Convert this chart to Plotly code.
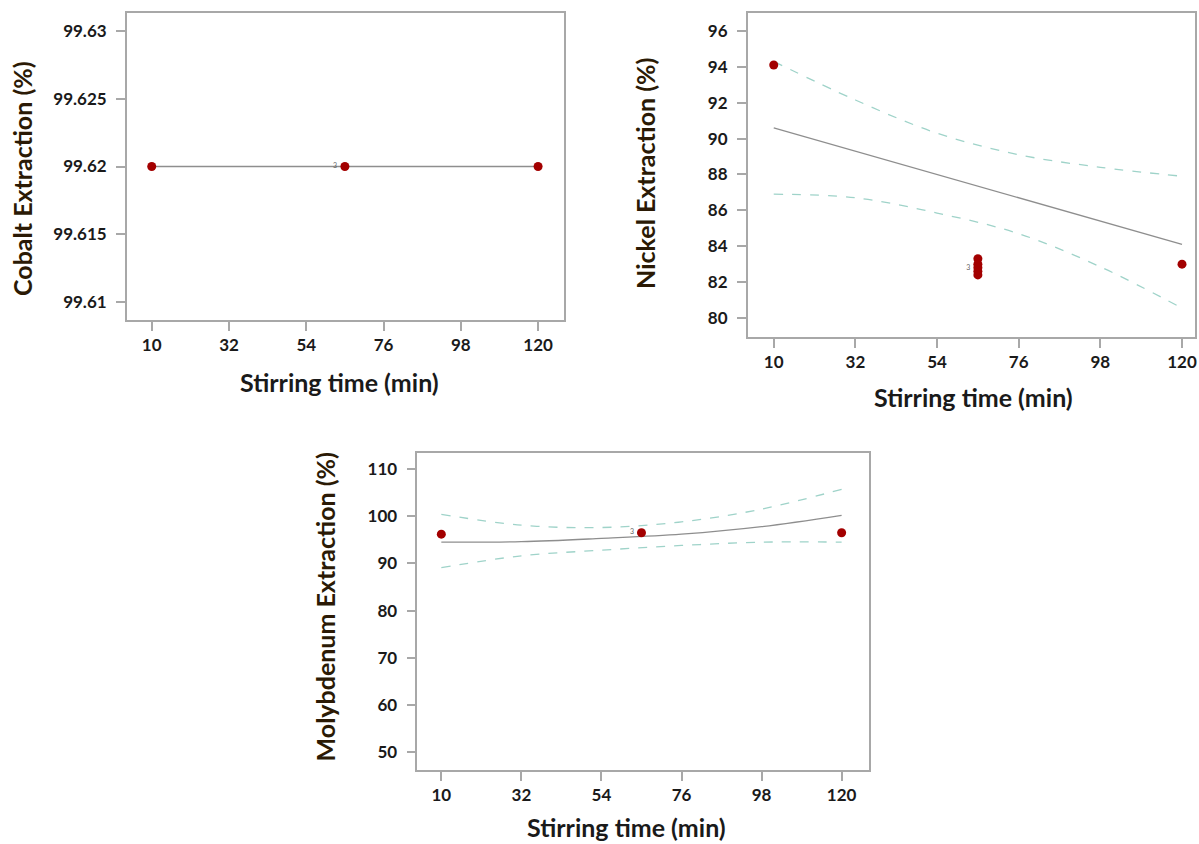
import plotly.graph_objects as go

# ---------------- data ----------------
tick_times = [10, 32, 54, 76, 98, 120]
curve_x = [10, 32, 54, 76, 98, 120]

cobalt_x = [10, 65, 120]
cobalt_y = [99.62, 99.62, 99.62]
cobalt_fit_x = [10, 120]
cobalt_fit_y = [99.62, 99.62]
cobalt_ticks = [99.61, 99.615, 99.62, 99.625, 99.63]

nickel_x = [10, 65, 65, 65, 65, 65, 120]
nickel_y = [94.1, 83.3, 83.0, 82.8, 82.6, 82.4, 83.0]
nickel_fit_x = [10, 120]
nickel_fit_y = [90.6, 84.1]
nickel_upper = [94.3, 92.15, 90.3, 89.1, 88.4, 87.9]
nickel_lower = [86.9, 86.7, 85.85, 84.7, 82.85, 80.55]
nickel_ticks = [80, 82, 84, 86, 88, 90, 92, 94, 96]

moly_x = [10, 65, 120]
moly_y = [96.2, 96.5, 96.5]
moly_fit = [94.5, 94.6, 95.3, 96.2, 97.8, 100.2]
moly_upper = [100.4, 98.1, 97.6, 98.8, 101.5, 105.7]
moly_lower = [89.1, 91.6, 92.8, 93.8, 94.5, 94.5]
moly_ticks = [50, 60, 70, 80, 90, 100, 110]

# ---------------- styling ----------------
W, H = 1199, 844
PT_COLOR = "#a30000"
FIT_COLOR = "#8e8e8e"
CI_COLOR = "#9fd3c9"
AX_COLOR = "#a8a8a8"
FONT = "Lato"

fig = go.Figure()

def add_panel(idx, px, py, fx=None, fy=None, up=None, lo=None, cx=None, rep=None):
    xa = "x" if idx == 1 else f"x{idx}"
    ya = "y" if idx == 1 else f"y{idx}"
    if up is not None:
        fig.add_trace(go.Scatter(x=cx, y=up, mode="lines", line=dict(color=CI_COLOR, width=1.3, dash="dash", shape="spline"),
                                 xaxis=xa, yaxis=ya, showlegend=False, hoverinfo="skip"))
        fig.add_trace(go.Scatter(x=cx, y=lo, mode="lines", line=dict(color=CI_COLOR, width=1.3, dash="dash", shape="spline"),
                                 xaxis=xa, yaxis=ya, showlegend=False, hoverinfo="skip"))
    fig.add_trace(go.Scatter(x=fx, y=fy, mode="lines", line=dict(color=FIT_COLOR, width=1.3, shape="spline"),
                             xaxis=xa, yaxis=ya, showlegend=False, hoverinfo="skip"))
    if rep is not None:
        fig.add_trace(go.Scatter(x=[rep[0]], y=[rep[1]], mode="text", text=["3"],
                                 textfont=dict(size=7, color="#666666", family=FONT),
                                 xaxis=xa, yaxis=ya, showlegend=False, hoverinfo="skip"))
    fig.add_trace(go.Scatter(x=px, y=py, mode="markers",
                             marker=dict(color=PT_COLOR, size=9, line=dict(width=0)),
                             xaxis=xa, yaxis=ya, showlegend=False))

add_panel(1, cobalt_x, cobalt_y, cobalt_fit_x, cobalt_fit_y, rep=(62.2, 99.62))
add_panel(2, nickel_x, nickel_y, nickel_fit_x, nickel_fit_y, nickel_upper, nickel_lower, curve_x, rep=(62.4, 82.8))
add_panel(3, moly_x, moly_y, curve_x, moly_fit, moly_upper, moly_lower, curve_x, rep=(62.4, 96.6))

tickfont = dict(family=FONT, size=17, color="#1a1a1a", weight="bold")

def axis_common(standoff=0):
    d = dict(showline=True, mirror=True, linecolor=AX_COLOR, linewidth=1.5,
             ticks="outside", ticklen=9, tickcolor=AX_COLOR, tickwidth=1.5,
             showgrid=False, zeroline=False, tickfont=tickfont)
    if standoff:
        d["ticklabelstandoff"] = standoff
    return d

def dom_x(l, r):
    return [l / W, r / W]

def dom_y(t, b):
    return [1 - b / H, 1 - t / H]

layout = dict(width=W, height=H, margin=dict(l=0, r=0, t=0, b=0),
              paper_bgcolor="white", plot_bgcolor="white", showlegend=False)

layout["xaxis"] = dict(domain=dom_x(127, 565), range=[2.9, 127.4], tickvals=tick_times, anchor="y", **axis_common())
layout["yaxis"] = dict(domain=dom_y(13, 320), range=[99.6087, 99.6313], tickvals=cobalt_ticks,
                       ticktext=[str(v) for v in cobalt_ticks], anchor="x", **axis_common(6))
layout["xaxis2"] = dict(domain=dom_x(749, 1197), range=[3.0, 123.5], tickvals=tick_times, anchor="y2", **axis_common())
layout["yaxis2"] = dict(domain=dom_y(13, 337), range=[78.94, 97.0], tickvals=nickel_ticks, anchor="x2", **axis_common(6))
layout["xaxis3"] = dict(domain=dom_x(418, 870), range=[3.4, 127.4], tickvals=tick_times, anchor="y3", **axis_common())
layout["yaxis3"] = dict(domain=dom_y(453, 770), range=[46.2, 113.4], tickvals=moly_ticks, anchor="x3", **axis_common(6))

fig.update_layout(**layout)

title_font = dict(family=FONT, size=25, color="#1a1a1a", weight="bold")
ytitle_font = dict(family=FONT, size=25, color="#2b1a05", weight="bold")

def ann(text, x, y, angle=0, font=title_font):
    fig.add_annotation(text=text, x=x / W, y=1 - y / H, xref="paper", yref="paper",
                       showarrow=False, textangle=angle, font=font, xanchor="center", yanchor="middle")

ann("Stirring time (min)", 340, 382)
ann("Stirring time (min)", 975, 397)
ann("Stirring time (min)", 628, 827)
ann("Cobalt Extraction (%)", 22, 178, -90, ytitle_font)
ann("Nickel Extraction (%)", 646, 173, -90, ytitle_font)
ann("Molybdenum Extraction (%)", 326, 607, -90, ytitle_font)

fig.write_html("out.html", config={"displayModeBar": False},
               post_script="document.body.style.margin='0';document.body.style.overflow='hidden';")
